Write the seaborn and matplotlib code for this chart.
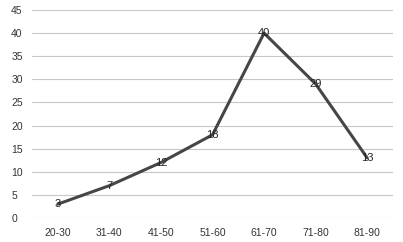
import pandas as pd
import matplotlib.pyplot as plt
import seaborn as sns

age_groups = ['20-30', '31-40', '41-50', '51-60', '61-70', '71-80', '81-90']
counts = [3, 7, 12, 18, 40, 29, 13]

df = pd.DataFrame({'Age': age_groups, 'Count': counts})

sns.set_theme(style="white")
plt.rcParams['font.family'] = ['Liberation Sans', 'DejaVu Sans']

fig = plt.figure(figsize=(4.03, 2.42), dpi=100)
ax = fig.add_axes([32 / 403, 24 / 242, 361 / 403, 208 / 242])

sns.lineplot(data=df, x='Age', y='Count', color='#464646', linewidth=2.2,
             sort=False, ax=ax)

for i, v in enumerate(counts):
    ax.text(i, v, str(v), ha='center', va='center', fontsize=8, color='#222222')

ax.set_xlim(-0.5, len(age_groups) - 0.5)
ax.set_ylim(0, 45)
ax.set_yticks(range(0, 50, 5))
ax.yaxis.grid(True, color='#c8c8c8', linewidth=0.8)
ax.set_axisbelow(True)
for s in ax.spines.values():
    s.set_visible(False)
ax.tick_params(axis='both', length=0, labelsize=7.5, colors='#333333')
ax.tick_params(axis='x', pad=7)
ax.tick_params(axis='y', pad=15)
for lbl in ax.get_yticklabels():
    lbl.set_horizontalalignment('left')
ax.set_xlabel('')
ax.set_ylabel('')

fig.savefig('out.png', dpi=100)
